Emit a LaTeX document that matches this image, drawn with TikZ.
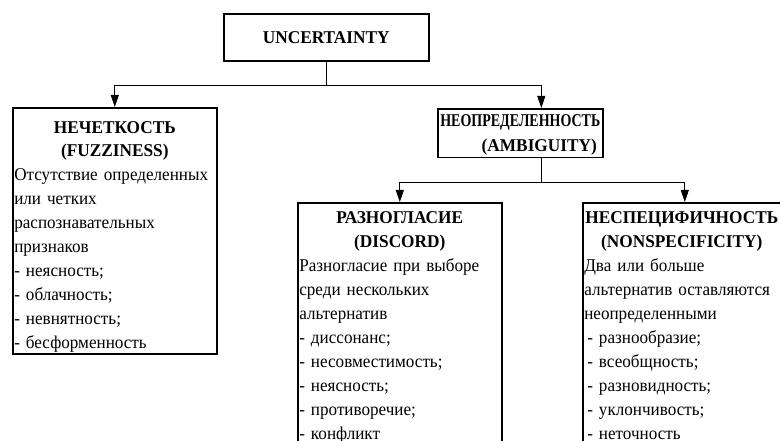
\documentclass[tikz,border=0pt]{standalone}
\usepackage{graphicx}
\usepackage{fontspec}
\setmainfont[UprightFeatures={FakeStretch=0.95}, BoldFeatures={FakeStretch=0.96}]{Liberation Serif}
\usetikzlibrary{arrows.meta}

\begin{document}
\begin{tikzpicture}[x=1pt, y=-1pt, >={Triangle[length=12pt,width=8pt]},
	box/.style={draw, line width=1.6pt, anchor=north west, inner xsep=1.5pt, inner ysep=4pt, font=\fontsize{18}{24}\selectfont},
	link/.style={line width=0.8pt}]
	\useasboundingbox (0,0) rectangle (780,441);
	\clip (0,0) rectangle (780,441);
	
	\node[box, minimum width=205, minimum height=47, align=center, inner ysep=0pt] (unc) at (223,13) {\textbf{UNCERTAINTY}};
	
	\node[box, text width=201, inner ysep=1.5pt] (fuzzy) at (12,107) {\centering\rule{0pt}{24.5pt}\textbf{НЕЧЕТКОСТЬ}\\[-1pt]\textbf{(FUZZINESS)}\par
		\raggedright Отсутствие определенных\\или четких\\распознавательных\\признаков\\- неясность;\\- облачность;\\- невнятность;\\- бесформенность\par};
	
	\node[box, text width=162, align=center, inner ysep=2pt] (amb) at (437,108) {\rule{0pt}{16pt}\scalebox{0.81}[1]{\textbf{НЕОПРЕДЕЛЕННОСТЬ}}\\[1pt]\hspace*{38pt}\textbf{(AMBIGUITY)}};
	
	\node[box, text width=201] (disc) at (297,202) {\centering\rule{0pt}{17pt}\textbf{РАЗНОГЛАСИЕ}\\\textbf{(DISCORD)}\par
		\raggedright Разногласие при выборе\\среди нескольких\\альтернатив\\- диссонанс;\\- несовместимость;\\- неясность;\\- противоречие;\\- конфликт\par\vspace*{20pt}};
	
	\node[box, text width=201] (nons) at (582,202) {\centering\rule{0pt}{17pt}\hspace*{-6pt}\textbf{НЕСПЕЦИФИЧНОСТЬ}\\\hspace*{-6pt}\textbf{(NONSPECIFICITY)}\par
		\raggedright Два или больше\\альтернатив оставляются\\неопределенными\\\hspace*{3pt}- разнообразие;\\\hspace*{3pt}- всеобщность;\\\hspace*{3pt}- разновидность;\\\hspace*{3pt}- уклончивость;\\\hspace*{3pt}- неточность\par\vspace*{20pt}};
	
	\coordinate (split1) at ([yshift=-24pt]unc.south);
	\coordinate (ambtop) at ([xshift=21pt]amb.north);
	\coordinate (ambbot) at ([xshift=21pt]amb.south);
	\coordinate (split2) at ([yshift=-24pt]ambbot);
	
	\draw[link] (unc.south) -- (split1);
	\draw[link,->] (split1) -| (fuzzy.north);
	\draw[link,->] (split1) -| (ambtop);
	\draw[link] (ambbot) -- (split2);
	\draw[link,->] (split2) -| (disc.north);
	\draw[link,->] (split2) -| (nons.north);
	
\end{tikzpicture}
\end{document}
